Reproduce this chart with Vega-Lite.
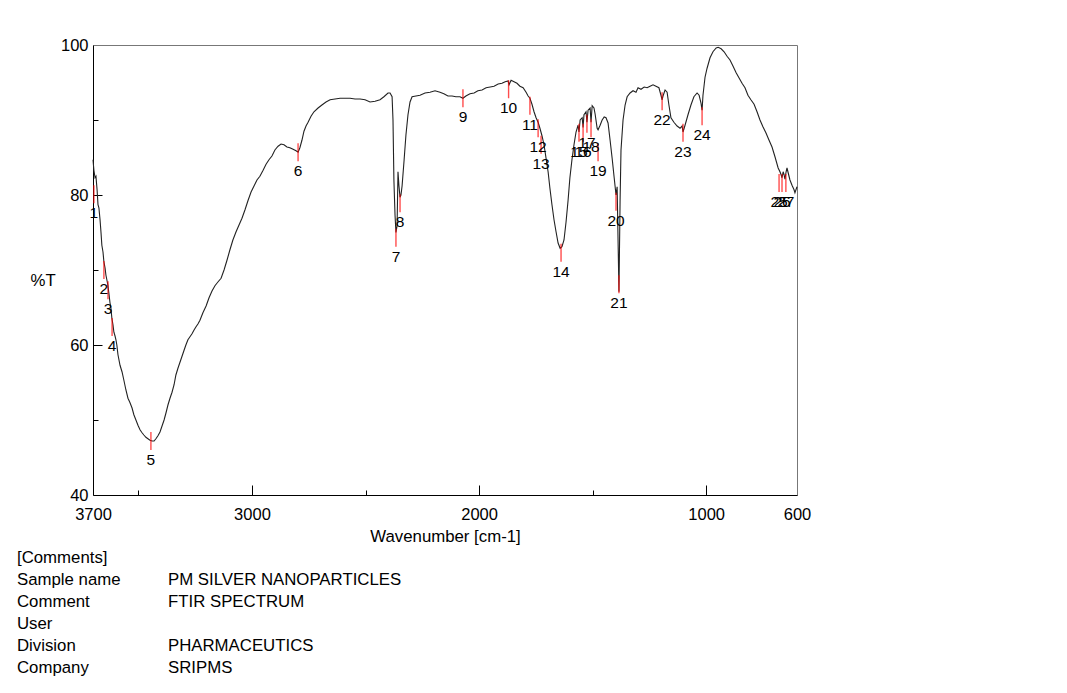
{
  "$schema": "https://vega.github.io/schema/vega-lite/v6.json",
  "width": 704,
  "height": 450,
  "autosize": {"type": "none"},
  "padding": {"left": 93, "top": 45, "right": 270, "bottom": 198},
  "background": "white",
  "config": {
    "font": "Liberation Sans",
    "view": {"stroke": "#777", "strokeWidth": 1},
    "axis": {"labelColor": "black", "titleColor": "black", "domainColor": "black", "tickColor": "black", "grid": false, "labelFontSize": 16.5, "titleFontSize": 16.8, "titleFontWeight": "normal", "labelFont": "Liberation Sans", "titleFont": "Liberation Sans"}
  },
  "datasets": {
    "spectrum": [
      {"w":3700,"t":84.7},{"w":3696,"t":83.3},{"w":3691,"t":82.3},{"w":3687,"t":82.5},{"w":3682,"t":80.7},{"w":3678,"t":78.7},{"w":3674,"t":78.3},{"w":3669,"t":76.7},{"w":3665,"t":75.1},{"w":3661,"t":73.3},{"w":3656,"t":72.4},{"w":3652,"t":71.1},{"w":3647,"t":70.3},{"w":3643,"t":69.3},{"w":3639,"t":68.7},{"w":3634,"t":67.9},{"w":3630,"t":66.9},{"w":3625,"t":65.6},{"w":3621,"t":64.9},{"w":3617,"t":63.6},{"w":3612,"t":62.7},{"w":3608,"t":61.7},{"w":3603,"t":61.2},{"w":3599,"t":60.7},{"w":3595,"t":60},{"w":3590,"t":58.7},{"w":3581,"t":57.3},{"w":3572,"t":56.4},{"w":3564,"t":55.3},{"w":3555,"t":54},{"w":3546,"t":52.9},{"w":3537,"t":52.3},{"w":3528,"t":51.6},{"w":3520,"t":50.7},{"w":3511,"t":50},{"w":3502,"t":49.3},{"w":3493,"t":48.7},{"w":3484,"t":48.3},{"w":3476,"t":48},{"w":3467,"t":47.7},{"w":3458,"t":47.5},{"w":3449,"t":47.3},{"w":3440,"t":47.2},{"w":3431,"t":47.2},{"w":3423,"t":47.5},{"w":3414,"t":47.9},{"w":3405,"t":48.4},{"w":3396,"t":49.2},{"w":3387,"t":50},{"w":3379,"t":50.9},{"w":3370,"t":52},{"w":3361,"t":52.9},{"w":3352,"t":53.7},{"w":3343,"t":54.7},{"w":3335,"t":56},{"w":3326,"t":56.9},{"w":3317,"t":57.7},{"w":3308,"t":58.5},{"w":3299,"t":59.3},{"w":3291,"t":60},{"w":3282,"t":60.7},{"w":3273,"t":61.1},{"w":3264,"t":61.5},{"w":3255,"t":62},{"w":3247,"t":62.4},{"w":3238,"t":62.8},{"w":3229,"t":63.3},{"w":3216,"t":64.3},{"w":3202,"t":65.2},{"w":3189,"t":66.3},{"w":3176,"t":67.2},{"w":3163,"t":67.9},{"w":3150,"t":68.4},{"w":3136,"t":68.9},{"w":3123,"t":70},{"w":3110,"t":71.3},{"w":3097,"t":72.7},{"w":3084,"t":74},{"w":3070,"t":75.1},{"w":3057,"t":76},{"w":3044,"t":76.9},{"w":3031,"t":78},{"w":3017,"t":79.3},{"w":3004,"t":80.4},{"w":2991,"t":81.2},{"w":2978,"t":82},{"w":2965,"t":82.5},{"w":2951,"t":83.3},{"w":2938,"t":84.1},{"w":2925,"t":84.7},{"w":2912,"t":85.2},{"w":2899,"t":86},{"w":2885,"t":86.5},{"w":2872,"t":86.8},{"w":2859,"t":86.7},{"w":2846,"t":86.4},{"w":2833,"t":86.3},{"w":2819,"t":86.1},{"w":2806,"t":85.9},{"w":2797,"t":85.7},{"w":2789,"t":86.3},{"w":2780,"t":87.3},{"w":2771,"t":88.5},{"w":2762,"t":89.2},{"w":2753,"t":89.7},{"w":2740,"t":90.5},{"w":2727,"t":91.1},{"w":2709,"t":91.6},{"w":2692,"t":92},{"w":2674,"t":92.4},{"w":2656,"t":92.7},{"w":2634,"t":92.8},{"w":2612,"t":92.9},{"w":2590,"t":92.9},{"w":2568,"t":92.9},{"w":2546,"t":92.8},{"w":2524,"t":92.8},{"w":2502,"t":92.7},{"w":2480,"t":92.4},{"w":2458,"t":92.5},{"w":2436,"t":92.7},{"w":2419,"t":93.1},{"w":2401,"t":93.6},{"w":2392,"t":93.6},{"w":2383,"t":93.1},{"w":2379,"t":90},{"w":2375,"t":82},{"w":2370,"t":77.3},{"w":2366,"t":75},{"w":2361,"t":75.9},{"w":2357,"t":83.1},{"w":2353,"t":81.3},{"w":2348,"t":79.7},{"w":2344,"t":80},{"w":2339,"t":81.2},{"w":2330,"t":84.7},{"w":2322,"t":88},{"w":2313,"t":90.7},{"w":2304,"t":92.4},{"w":2295,"t":93.1},{"w":2278,"t":93.2},{"w":2260,"t":93.3},{"w":2238,"t":93.6},{"w":2216,"t":93.7},{"w":2194,"t":93.9},{"w":2172,"t":93.7},{"w":2155,"t":93.5},{"w":2137,"t":93.2},{"w":2119,"t":93.2},{"w":2102,"t":93.1},{"w":2084,"t":93.1},{"w":2071,"t":92.9},{"w":2058,"t":93.2},{"w":2040,"t":93.5},{"w":2022,"t":93.6},{"w":2005,"t":93.9},{"w":1987,"t":94},{"w":1969,"t":94.3},{"w":1951,"t":94.4},{"w":1934,"t":94.5},{"w":1916,"t":94.8},{"w":1899,"t":94.9},{"w":1885,"t":95.1},{"w":1872,"t":95.2},{"w":1868,"t":94.7},{"w":1859,"t":95.3},{"w":1846,"t":95.1},{"w":1833,"t":94.9},{"w":1820,"t":94.5},{"w":1806,"t":94.3},{"w":1793,"t":93.7},{"w":1784,"t":93.2},{"w":1776,"t":92.9},{"w":1767,"t":92.1},{"w":1758,"t":91.1},{"w":1749,"t":90.3},{"w":1740,"t":89.7},{"w":1732,"t":88.9},{"w":1723,"t":87.9},{"w":1714,"t":86.7},{"w":1705,"t":84.9},{"w":1696,"t":83.1},{"w":1688,"t":80.9},{"w":1679,"t":78.7},{"w":1670,"t":76.7},{"w":1661,"t":75.1},{"w":1652,"t":73.6},{"w":1643,"t":72.9},{"w":1635,"t":73.1},{"w":1626,"t":74},{"w":1617,"t":76.4},{"w":1608,"t":79.3},{"w":1600,"t":82.3},{"w":1591,"t":84.7},{"w":1582,"t":86.7},{"w":1573,"t":88.4},{"w":1564,"t":89.3},{"w":1560,"t":88.4},{"w":1555,"t":90},{"w":1546,"t":90.3},{"w":1542,"t":89},{"w":1538,"t":90.7},{"w":1529,"t":91.1},{"w":1525,"t":89.7},{"w":1520,"t":91.3},{"w":1511,"t":91.6},{"w":1507,"t":89.7},{"w":1502,"t":91.9},{"w":1494,"t":91.6},{"w":1489,"t":90.8},{"w":1480,"t":88.9},{"w":1476,"t":88.7},{"w":1467,"t":89.3},{"w":1458,"t":90},{"w":1449,"t":90.4},{"w":1441,"t":90.3},{"w":1432,"t":89.6},{"w":1423,"t":87.3},{"w":1414,"t":84.9},{"w":1405,"t":82.3},{"w":1397,"t":80},{"w":1392,"t":81.1},{"w":1388,"t":74},{"w":1384,"t":67.1},{"w":1379,"t":79.3},{"w":1375,"t":86},{"w":1366,"t":90},{"w":1357,"t":92},{"w":1348,"t":93.1},{"w":1335,"t":93.6},{"w":1322,"t":93.9},{"w":1309,"t":93.7},{"w":1300,"t":94.3},{"w":1287,"t":94.1},{"w":1273,"t":94.4},{"w":1260,"t":94.3},{"w":1247,"t":94.5},{"w":1234,"t":94.7},{"w":1221,"t":94.5},{"w":1208,"t":94.3},{"w":1199,"t":93.3},{"w":1194,"t":92.7},{"w":1190,"t":93.2},{"w":1181,"t":94},{"w":1172,"t":93.7},{"w":1164,"t":92},{"w":1155,"t":90.3},{"w":1142,"t":89.7},{"w":1128,"t":89.2},{"w":1115,"t":88.9},{"w":1106,"t":89.2},{"w":1102,"t":88.4},{"w":1093,"t":89.3},{"w":1080,"t":90.7},{"w":1067,"t":92},{"w":1054,"t":93.1},{"w":1040,"t":93.6},{"w":1031,"t":93.3},{"w":1023,"t":92.3},{"w":1018,"t":91.3},{"w":1014,"t":93.3},{"w":1005,"t":95.7},{"w":996,"t":96.9},{"w":983,"t":98.3},{"w":970,"t":99.1},{"w":956,"t":99.6},{"w":947,"t":99.7},{"w":934,"t":99.5},{"w":921,"t":99.1},{"w":908,"t":98.5},{"w":895,"t":98},{"w":882,"t":97.2},{"w":868,"t":96.3},{"w":855,"t":95.6},{"w":842,"t":94.9},{"w":829,"t":94.3},{"w":816,"t":93.3},{"w":803,"t":92.7},{"w":789,"t":92.1},{"w":776,"t":91.1},{"w":763,"t":90},{"w":750,"t":89.1},{"w":737,"t":88.3},{"w":723,"t":87.3},{"w":710,"t":86.4},{"w":697,"t":85.1},{"w":683,"t":83.6},{"w":675,"t":83.1},{"w":670,"t":82.7},{"w":666,"t":82.3},{"w":661,"t":83.1},{"w":657,"t":82.7},{"w":653,"t":82.1},{"w":648,"t":83.1},{"w":644,"t":83.6},{"w":640,"t":83.1},{"w":631,"t":82},{"w":622,"t":81.3},{"w":613,"t":80.7},{"w":609,"t":80.3},{"w":600,"t":81.1}
    ],
    "peaks": [
      {"n":"1","w":3696,"t":80.1},{"n":"2","w":3652,"t":70.0},{"n":"3","w":3634,"t":67.3},{"n":"4","w":3616,"t":62.4},{"n":"5","w":3445,"t":47.2},{"n":"6","w":2797,"t":85.7},{"n":"7","w":2366,"t":74.3},{"n":"8","w":2348,"t":78.9},{"n":"9","w":2071,"t":92.9},{"n":"10","w":1870,"t":94.1},{"n":"11","w":1776,"t":91.9},{"n":"12","w":1740,"t":88.9},{"n":"13","w":1727,"t":86.7},{"n":"14","w":1639,"t":72.3},{"n":"15","w":1560,"t":88.3},{"n":"16","w":1542,"t":88.3},{"n":"17","w":1525,"t":89.5},{"n":"18","w":1507,"t":88.9},{"n":"19","w":1476,"t":85.7},{"n":"20","w":1397,"t":79.1},{"n":"21","w":1384,"t":68.1},{"n":"22","w":1194,"t":92.5},{"n":"23","w":1102,"t":88.3},{"n":"24","w":1018,"t":90.5},{"n":"25","w":679,"t":81.6},{"n":"26","w":666,"t":81.6},{"n":"27","w":649,"t":81.6}
    ],
    "comments": [
      {"key":"[Comments]","value":""},
      {"key":"Sample name","value":"PM SILVER NANOPARTICLES"},
      {"key":"Comment","value":"FTIR SPECTRUM"},
      {"key":"User","value":""},
      {"key":"Division","value":"PHARMACEUTICS"},
      {"key":"Company","value":"SRIPMS"}
    ]
  },
  "layer": [
    {
      "layer": [
        {
          "data": {"name": "spectrum"},
          "mark": {"type": "line", "color": "#222", "strokeWidth": 1.1},
          "encoding": {
            "x": {"field": "w", "type": "quantitative", "scale": {"domain": [600, 3700], "reverse": true, "nice": false, "zero": false},
              "axis": {"orient": "bottom", "values": [3700, 3000, 2000, 1000, 600], "format": "d", "ticks": false, "labelPadding": 11, "labelFlush": false, "labelOverlap": false, "title": "Wavenumber [cm-1]", "titlePadding": 6}},
            "y": {"field": "t", "type": "quantitative", "scale": {"domain": [40, 100], "nice": false, "zero": false},
              "axis": {"orient": "left", "values": [40, 60, 80, 100], "format": "d", "ticks": false, "labelPadding": 5, "labelOverlap": false, "labelFlush": false, "title": "%T", "titleAngle": 0, "titleX": -63, "titleY": 235, "titleAlign": "left", "titleBaseline": "middle"}}
          }
        },
        {
          "data": {"name": "peaks"},
          "mark": {"type": "tick", "orient": "vertical", "color": "#ff0000", "size": 18, "thickness": 1.4},
          "encoding": {
            "x": {"field": "w", "type": "quantitative", "scale": {"domain": [600, 3700], "reverse": true, "nice": false, "zero": false},
              "axis": {"orient": "bottom", "values": [3000, 2000, 1000], "tickSize": -10, "labels": false, "domain": false, "title": null}},
            "y": {"field": "t", "type": "quantitative", "scale": {"domain": [40, 100], "nice": false, "zero": false},
              "axis": {"orient": "left", "values": [60, 80], "tickSize": -9, "labels": false, "domain": false, "title": null}}
          }
        },
        {
          "data": {"name": "peaks"},
          "mark": {"type": "text", "dy": 19, "fontSize": 15.5, "color": "black", "align": "center", "baseline": "middle"},
          "encoding": {
            "x": {"field": "w", "type": "quantitative", "scale": {"domain": [600, 3700], "reverse": true, "nice": false, "zero": false},
              "axis": {"orient": "bottom", "values": [3500, 2500, 1500], "tickSize": -5, "labels": false, "domain": false, "title": null}},
            "y": {"field": "t", "type": "quantitative", "scale": {"domain": [40, 100], "nice": false, "zero": false},
              "axis": {"orient": "left", "values": [50, 70, 90], "tickSize": -5, "labels": false, "domain": false, "title": null}},
            "text": {"field": "n"}
          }
        }
      ],
      "resolve": {"axis": {"x": "independent", "y": "independent"}}
    },
    {
      "data": {"name": "comments"},
      "transform": [{"fold": ["key", "value"], "as": ["col", "txt"]}],
      "mark": {"type": "text", "align": "left", "baseline": "middle", "fontSize": 16.8, "color": "black"},
      "encoding": {
        "x": {"field": "col", "type": "nominal", "scale": {"type": "point", "domain": ["key", "value"], "range": [-76, 75], "padding": 0}, "axis": null},
        "y": {"field": "key", "type": "nominal", "scale": {"type": "point", "domain": ["[Comments]", "Sample name", "Comment", "User", "Division", "Company"], "range": [513, 623], "padding": 0}, "axis": null},
        "text": {"field": "txt"}
      }
    }
  ],
  "resolve": {"scale": {"x": "independent", "y": "independent"}, "axis": {"x": "independent", "y": "independent"}}
}
